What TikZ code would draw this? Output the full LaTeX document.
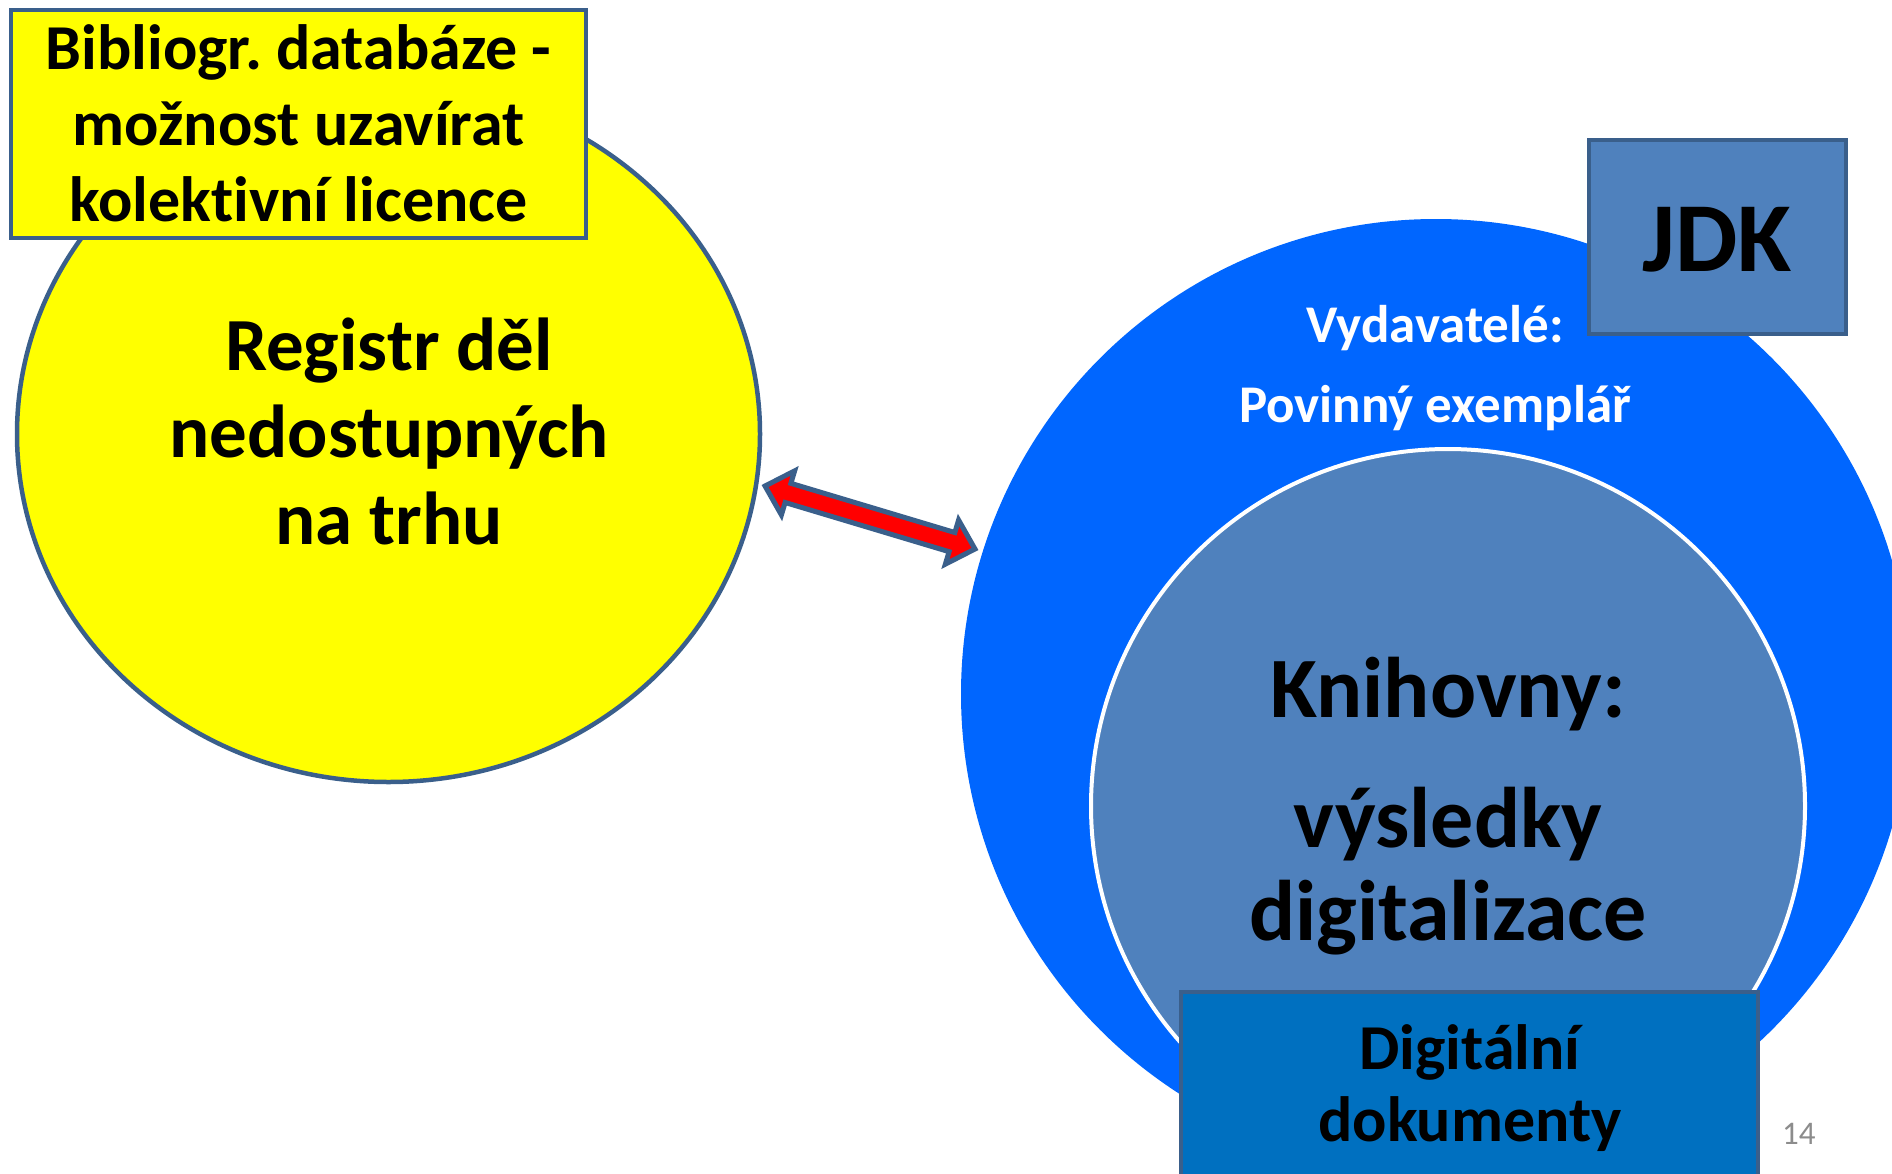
\documentclass[tikz,border=0pt]{standalone}
\usepackage{fontspec}
\setmainfont[Ligatures=NoCommon]{Carlito}
\frenchspacing
\usetikzlibrary{shapes.geometric,calc}
\definecolor{edge}{HTML}{3A5F8B}
\definecolor{yel}{HTML}{FFFF00}
\definecolor{brightblue}{HTML}{0066FF}
\definecolor{steel}{HTML}{4F81BD}
\definecolor{docblue}{HTML}{0070C0}
\definecolor{pagegray}{HTML}{8C8C8C}
\definecolor{arrowred}{HTML}{FF0000}
\begin{document}
\frenchspacing
\begin{tikzpicture}[x=1pt,y=-1pt,
  txt/.style={anchor=base, inner sep=0pt, font=\bfseries},
  boxshape/.style={draw=edge, line width=4pt, inner sep=0pt, rectangle},
  fs/.style={font=\bfseries\fontsize{#1}{#1}\selectfont}]
\useasboundingbox (0,0) rectangle (1892,1173);
\clip (0,0) rectangle (1892,1173);

% left: register
\node[ellipse, draw=edge, line width=4.5pt, fill=yel, minimum width=743pt, minimum height=696pt, inner sep=0pt] (reg) at (388.5,434) {};
\node[boxshape, fill=yel, minimum width=575pt, minimum height=228pt] (bib) at (298.5,124) {};
\node[txt, fs=64] (bib1) at (298.5,69) {Bibliogr. databáze -};
\node[txt, fs=64] (bib2) at (298.5,145) {možnost uzavírat};
\node[txt, fs=64] (bib3) at (298.5,221) {kolektivní licence};
\node[txt, fs=75] (reg1) at (389,370) {Registr děl};
\node[txt, fs=75] (reg2) at (389,457) {nedostupných};
\node[txt, fs=75] (reg3) at (389,544) {na trhu};

% right: publishers / libraries
\node[circle, fill=brightblue, minimum size=950pt, inner sep=0pt] (pub) at (1436,694) {};
\node[circle, fill=steel, draw=white, line width=4pt, minimum size=714pt, inner sep=0pt] (lib) at (1448,806) {};
\node[txt, fs=53, text=white] (pub1) at (1435,342) {Vydavatelé:};
\node[txt, fs=53, text=white] (pub2) at (1435,422) {Povinný exemplář};
\node[txt, fs=86] (lib1) at (1448,717) {Knihovny:};
\node[txt, fs=86] (lib2) at (1448,847) {výsledky};
\node[txt, fs=86] (lib3) at (1448,940) {digitalizace};
\node[boxshape, fill=steel, minimum width=257pt, minimum height=194pt] (jdk) at (1717.5,237) {};
\node[txt, fs=99] (jdkt) at (1717,271) {JDK};
\node[boxshape, fill=docblue, minimum width=577pt, minimum height=198pt] (doc) at (1469.5,1091) {};
\node[txt, fs=64] (doc1) at (1470,1069) {Digitální};
\node[txt, fs=64] (doc2) at (1470,1141) {dokumenty};
\node[anchor=base west, inner sep=0pt, text=pagegray, font=\fontsize{33}{33}\selectfont] (page) at (1782,1144) {14};

% double block arrow between the two circles
\coordinate (a1) at (765,486);
\coordinate (a2) at (975,549);
\begin{scope}[shift={($(a1)!0.5!(a2)$)}, rotate=-16.7]
\draw[draw=edge, line width=5pt, fill=arrowred, line join=miter]
  (-109.6,0) -- (-85.6,-23) -- (-85.6,-10) -- (85.6,-10) -- (85.6,-23)
  -- (109.6,0) -- (85.6,23) -- (85.6,10) -- (-85.6,10) -- (-85.6,23) -- cycle;
\end{scope}
\end{tikzpicture}
\end{document}
